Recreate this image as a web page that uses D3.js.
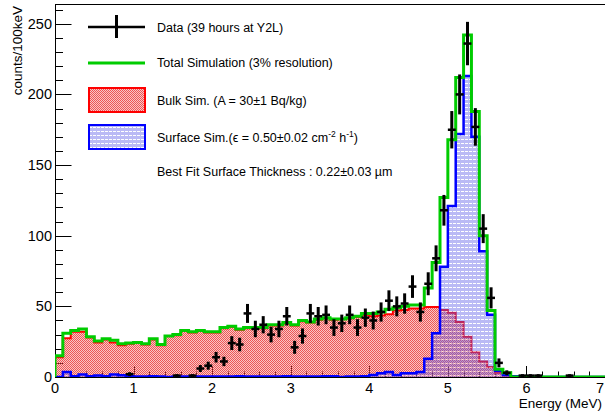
<!DOCTYPE html>
<html><head><meta charset="utf-8">
<script src="https://cdn.jsdelivr.net/npm/d3@7"></script>
<style>
body{margin:0;background:#fff}
svg{display:block}
text{font-family:"Liberation Sans",Arial,Helvetica,sans-serif;fill:#000}
</style>
</head><body>
<svg id="c" width="605" height="413"></svg>
<script>
// ---------- data (counts per 100 keV bin, 0–7 MeV, 70 bins) ----------
const binWidth = 0.1;
const nBins = 70;
const totalSim = [15,31,33,34,28.5,25.5,27,26,23.5,24, 24.5,23.5,27,23,29,30,33,32,33,32,
  32,35,36,34,35,35,35,37,37,38.5, 37,40,39,41,42,41,41,42,43,45,
  45,46,48,49,50,51,51,63,81,127, 168,212,242,188,100,47,5.5,3,0,0,
  0,0,0,0,0,0,0,0,0,0];
const bulkSim = [14,27.5,32,32,28,24.5,26.5,24.5,22.5,23.5, 24,23,26.5,22.5,29,29.5,32.5,31.5,32.5,31.5,
  31.5,34.5,35.5,33.5,34.5,34.5,34.5,36.5,36.5,38, 36.5,39.5,38.5,40.5,41.5,40.5,41,41.5,42.5,44,
  43,43.5,44.5,47,47.5,48.5,48.5,49.5,49.5,47.5, 45.5,39,28.5,17.5,11,7,3,1,0,0,
  0,0,0,0,0,0,0,0,0,0];
const surfaceSim = [0,3.5,0.5,1.8,0.5,1,0.5,1.8,1.2,0.5, 0.3,0.3,0.5,0.3,0,0.3,0.3,0.3,0.3,0.3,
  0.3,0.3,0.3,0.5,0.3,0.3,0.3,0.3,0.3,0.5, 0.3,0.3,0.3,0.3,0.5,0.5,0,0.3,0.3,0.5,
  1.5,2.6,3.5,1.5,2.6,2.6,3.5,13,31,78, 121,172,213,170,89,44,4.5,1.5,0.5,0,
  0,0,0,0,0,0,0,0,0,0];
const dataCounts = [null,null,null,null,null,null,null,null,null,2,
  null,null,null,null,null,1,null,1,6,8,
  14,11,24,23,45,34,37,30,34,43,
  21,29,45,43,44,35,38,44,35,42,
  40,46,54,50,52,64,46,66,84,118,
  175,200,236,177,105,56,10,3,null,1,
  1,1,null,null,null,1,null,null,null,null];
const xTicks = [0,1,2,3,4,5,6,7];
const yTicks = [0,50,100,150,200,250];
const legendLabels = ["Data (39 hours at Y2L)","Total Simulation (3% resolution)","Bulk Sim. (A = 30\u00b11 Bq/kg)"];

// ---------- layout ----------
const svg = d3.select("#c");
const L = 55, R = 605, T = 4, B = 377;
const x = d3.scaleLinear().domain([0,7]).range([L,R]);
const y = d3.scaleLinear().domain([0,264]).range([B,T]);
const edges = d3.range(nBins+1).map(i => i*binWidth);

const defs = svg.append("defs");
const pr = defs.append("pattern").attr("id","bulkPat").attr("patternUnits","userSpaceOnUse")
  .attr("width",2).attr("height",2);
pr.append("rect").attr("x",0).attr("y",0).attr("width",2).attr("height",2).attr("fill","#f06a6a").attr("fill-opacity",0.38);
pr.append("rect").attr("x",0).attr("y",0).attr("width",1).attr("height",1).attr("fill","#e83030").attr("fill-opacity",0.75);
pr.append("rect").attr("x",1).attr("y",1).attr("width",1).attr("height",1).attr("fill","#e83030").attr("fill-opacity",0.75);
const pb = defs.append("pattern").attr("id","surfPat").attr("patternUnits","userSpaceOnUse")
  .attr("width",4).attr("height",4);
pb.append("rect").attr("x",0).attr("y",0).attr("width",4).attr("height",3).attr("fill","#5a5ae6").attr("fill-opacity",0.42);
pb.append("rect").attr("x",0).attr("y",3).attr("width",1).attr("height",1).attr("fill","#5a5ae6").attr("fill-opacity",0.42);
pb.append("rect").attr("x",1).attr("y",3).attr("width",3).attr("height",1).attr("fill","#ffffff").attr("fill-opacity",0.5);
defs.append("clipPath").attr("id","plotClip").append("rect")
  .attr("x",L).attr("y",T).attr("width",R-L).attr("height",B-T);

function stepPath(vals){
  let p = `M${x(edges[0])},${y(0)}`;
  vals.forEach((v,i)=>{ p += `L${x(edges[i])},${y(v)}L${x(edges[i+1])},${y(v)}`; });
  p += `L${x(edges[nBins])},${y(0)}`;
  return p;
}

// frame
svg.append("rect").attr("x",L+0.5).attr("y",T+0.5).attr("width",R-L).attr("height",B-T)
  .attr("fill","none").attr("stroke","#000").attr("stroke-width",1);

// axis ticks (inside)
const tickG = svg.append("g").attr("stroke","#000").attr("stroke-width",1);
d3.range(0,7.001,0.2).forEach(v=>{
  const major = Math.abs(v-Math.round(v))<1e-6;
  const xx = Math.round(x(v))+0.5;
  tickG.append("line").attr("x1",xx).attr("x2",xx).attr("y1",B).attr("y2",B-(major?11:5.5));
});
d3.range(0,261,10).forEach(v=>{
  const major = v%50===0;
  const yy = Math.round(y(v))+0.5;
  tickG.append("line").attr("x1",L).attr("x2",L+(major?16.5:8)).attr("y1",yy).attr("y2",yy);
});

const plot = svg.append("g").attr("clip-path","url(#plotClip)");
plot.append("path").attr("d",stepPath(bulkSim)+"Z").attr("fill","url(#bulkPat)").attr("stroke","none");
plot.append("path").attr("d",stepPath(bulkSim)).attr("fill","none").attr("stroke","#ff0000").attr("stroke-width",2);
plot.append("path").attr("d",stepPath(surfaceSim)+"Z").attr("fill","url(#surfPat)").attr("stroke","none");
plot.append("path").attr("d",stepPath(surfaceSim)).attr("fill","none").attr("stroke","#0000ff").attr("stroke-width",2.5);
plot.append("path").attr("d",stepPath(totalSim)).attr("fill","none").attr("stroke","#00cc00").attr("stroke-width",3);

// data points
const dg = plot.append("g").attr("stroke","#000").attr("stroke-width",2.5);
dataCounts.forEach((c,i)=>{
  if(c===null) return;
  const cx = x(edges[i]+binWidth/2), e = Math.sqrt(c);
  dg.append("line").attr("x1",x(edges[i])).attr("x2",x(edges[i+1])).attr("y1",y(c)).attr("y2",y(c));
  dg.append("line").attr("x1",cx).attr("x2",cx).attr("y1",y(c-e)).attr("y2",y(c+e)).attr("stroke-width",3);
});

// tick labels
xTicks.forEach(v=> svg.append("text").attr("x",v===7?600:x(v)).attr("y",393).attr("text-anchor","middle")
  .attr("font-size",14.5).text(v));
yTicks.forEach(v=> svg.append("text").attr("x",52).attr("y",y(v)+5).attr("text-anchor","end")
  .attr("font-size",14.5).text(v));

// axis titles
svg.append("text").attr("x",602).attr("y",408).attr("text-anchor","end").attr("font-size",13.5).text("Energy (MeV)");
svg.append("text").attr("transform","translate(22,6) rotate(-90)").attr("text-anchor","end")
  .attr("font-size",13.5).text("counts/100keV");

// legend
const lg = svg.append("g");
lg.append("line").attr("x1",88).attr("x2",145).attr("y1",27).attr("y2",27).attr("stroke","#000").attr("stroke-width",2.5);
lg.append("line").attr("x1",116.5).attr("x2",116.5).attr("y1",15).attr("y2",38).attr("stroke","#000").attr("stroke-width",3);
lg.append("line").attr("x1",88).attr("x2",145).attr("y1",63).attr("y2",63).attr("stroke","#00cc00").attr("stroke-width",3);
lg.append("rect").attr("x",89).attr("y",88).attr("width",56).attr("height",24).attr("fill","url(#bulkPat)").attr("stroke","#ff0000").attr("stroke-width",2);
lg.append("rect").attr("x",89).attr("y",125).attr("width",56).attr("height",24).attr("fill","url(#surfPat)").attr("stroke","#0000ff").attr("stroke-width",2);
const lfs = 12.5;
lg.append("text").attr("x",157).attr("y",31.5).attr("font-size",lfs).text(legendLabels[0]);
lg.append("text").attr("x",157).attr("y",67).attr("font-size",lfs).text(legendLabels[1]);
lg.append("text").attr("x",157).attr("y",104.5).attr("font-size",lfs).text(legendLabels[2]);
const st = lg.append("text").attr("x",157).attr("y",141.5).attr("font-size",lfs);
st.append("tspan").text("Surface Sim.(\u03f5 = 0.50\u00b10.02 cm");
st.append("tspan").attr("font-size",8.5).attr("dy",-5).text("-2");
st.append("tspan").attr("dy",5).text(" h");
st.append("tspan").attr("font-size",8.5).attr("dy",-5).text("-1");
st.append("tspan").attr("dy",5).text(")");
lg.append("text").attr("x",157).attr("y",176).attr("font-size",lfs).text("Best Fit Surface Thickness : 0.22\u00b10.03 \u00b5m");
</script>
</body></html>
